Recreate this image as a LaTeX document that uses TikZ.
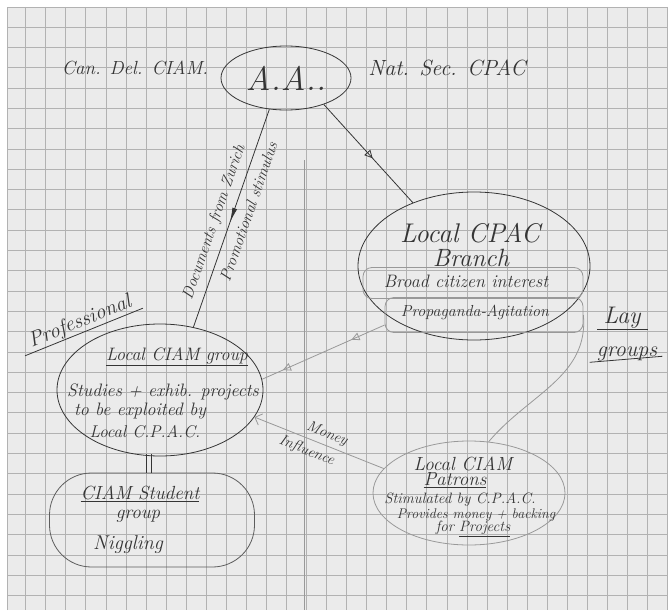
\documentclass[tikz,border=0pt]{standalone}
\usetikzlibrary{shapes.geometric,arrows.meta,decorations.markings}
\definecolor{paper}{HTML}{EBEBEB}
\definecolor{gridline}{HTML}{B2B2B2}
\definecolor{pencil}{HTML}{353535}
\definecolor{faint}{HTML}{999999}
\tikzset{
  pen/.style={draw=pencil, line width=0.8pt},
  soft/.style={draw=faint, line width=0.8pt},
  hand/.style={text=pencil, font=\itshape\fontsize{#1}{#1}\selectfont, inner sep=1pt},
  blob/.style={ellipse, inner sep=0pt},
  midopen/.style={postaction={decorate}, decoration={markings,
    mark=at position #1 with {\arrow{Triangle[open, length=8pt, width=8pt]}}}},
  midfill/.style={postaction={decorate}, decoration={markings,
    mark=at position #1 with {\arrow{Latex[length=15pt, width=5pt]}}}},
}
\begin{document}
\begin{tikzpicture}[x=1pt, y=-1pt]
  \useasboundingbox (0,0) rectangle (668,610);
  \fill[white] (0,0) rectangle (668,610);
  \fill[paper] (7,7) rectangle (668,610);
  \foreach \i in {0,...,32}
    \draw[gridline, line width=0.45pt] ({25.5+20.06*\i},7) -- ({25.5+20.06*\i},610);
  \foreach \j in {0,...,28}
    \draw[gridline, line width=0.45pt] (7,{27+20.3*\j}) -- (668,{27+20.3*\j});
  \draw[gridline, line width=0.45pt] (7,610) -- (7,7) -- (668,7);
  \draw[soft, line width=0.6pt] (304,160) -- (304,610);

  \node[blob, pen, minimum width=130pt, minimum height=64pt, hand=34] (AA) at (286,78) {A.A..};
  \node[hand=19] (CanDel) at (135,68) {Can. Del. CIAM.};
  \node[hand=22] (NatSec) at (447,68) {Nat. Sec. CPAC};

  \node[blob, pen, minimum width=232pt, minimum height=148pt] (CPAC) at (474,266) {};
  \node[hand=27] (CPACa) at (470,233) {Local CPAC};
  \node[hand=25] (CPACb) at (471,258) {Branch};
  \node[soft, rounded corners=9pt, minimum width=220pt, minimum height=31pt] (Broad) at (473,283) {};
  \node[hand=18] (Broadt) at (466,281) {Broad citizen interest};
  \node[soft, rounded corners=9pt, minimum width=198pt, minimum height=35pt] (Prop) at (484,315) {};
  \node[hand=16] (Propt) at (475,312) {Propaganda-Agitation};

  \node[hand=21, rotate=22] (Prof) at (80,322) {Professional};
  \draw[pen, shorten <=-8pt, shorten >=-8pt] (Prof.south west) -- (Prof.south east);

  \node[blob, pen, minimum width=206pt, minimum height=132pt] (CIAM) at (160,390) {};
  \node[hand=18] (CIAMa) at (177,357) {\underline{Local CIAM group}};
  \node[hand=18] (CIAMb) at (163,392) {Studies + exhib. projects};
  \node[hand=18] (CIAMc) at (140,411) {to be exploited by};
  \node[hand=17] (CIAMd) at (145,432) {Local C.P.A.C.};

  \node[draw=pencil!80, line width=0.8pt, rounded corners=42pt, minimum width=205pt, minimum height=94pt] (Stud) at (152,520) {};
  \node[hand=19] (Studa) at (140,494) {\underline{CIAM Student}};
  \node[hand=19] (Studb) at (138,516) {group};
  \node[hand=20] (Studc) at (128,545) {Niggling};
  \draw[pen] ([xshift=-6pt]Stud.north) -- ++(0,-19) ([xshift=-1pt]Stud.north) -- ++(0,-19);

  \node[blob, soft, minimum width=192pt, minimum height=104pt] (Patr) at (469,493) {};
  \node[hand=19] (Patra) at (463,464) {Local CIAM};
  \node[hand=19] (Patrb) at (455,480) {\underline{Patrons}};
  \node[hand=15] (Patrc) at (460,500) {Stimulated by C.P.A.C.};
  \node[hand=14] (Patrd) at (476,515) {Provides money + backing};
  \node[hand=15] (Patre) at (473,529) {for \underline{Projects}};

  \node[hand=24] (Lay) at (622,318) {Lay};
  \node[hand=22] (Groups) at (627,354) {groups};
  \draw[pen] ([xshift=-5pt]Lay.south west) -- ([xshift=6pt]Lay.south east);
  \draw[pen] ([xshift=-6pt]Groups.south west) -- ([xshift=4pt, yshift=6pt]Groups.south east);

  \draw[pen, midfill=.52] (AA.-118) to node[hand=16, sloped, above=6pt, pos=.54] (Docs) {Documents from Zurich}
    node[hand=16, sloped, below=7pt, pos=.45] (Promo) {Promotional stimulus} (CIAM.62);
  \draw[pen, midopen=.55] (AA.-35) -- (CPAC.134);
  \draw[soft, postaction={decorate}, decoration={markings,
    mark=at position .27 with {\arrow{Triangle[open, length=8pt, width=8pt]}},
    mark=at position .83 with {\arrow{Triangle[open, length=8pt, width=8pt]}}}]
    ([yshift=-10pt]Prop.west) -- (CIAM.6);
  \draw[soft] (Prop.east) to[out=-85, in=50] (Patr.69);
  \draw[soft, -{Straight Barb[length=6pt]}] (Patr.164) to node[hand=15, sloped, above=3pt, pos=.47] (Money) {Money}
    node[hand=15, sloped, below=4pt, pos=.56] (Infl) {Influence} (CIAM.-16);
\end{tikzpicture}
\end{document}
